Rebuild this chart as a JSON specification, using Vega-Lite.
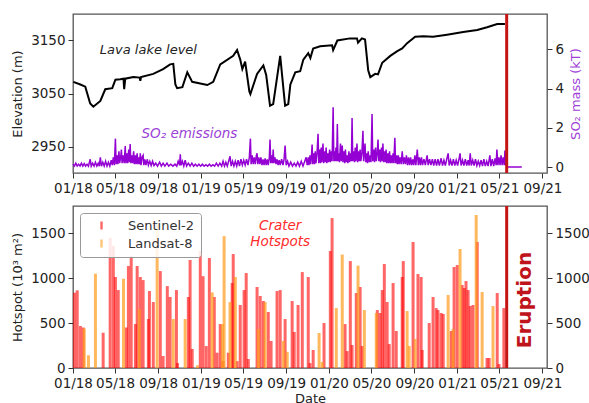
{
  "$schema": "https://vega.github.io/schema/vega-lite/v6.json",
  "padding": {"left": 10, "top": 11, "right": 0, "bottom": 0},
  "config": {
    "font": "DejaVu Sans",
    "view": {"stroke": "#555", "strokeWidth": 1.3},
    "axis": {"domain": false, "grid": false, "tickColor": "#333", "tickSize": 5, "labelFontSize": 13.5, "labelColor": "#222", "titleFontSize": 13, "titleFontWeight": "normal", "titleColor": "#222", "labelPadding": 3, "titlePadding": 6}
  },
  "resolve": {"scale": {"color": "independent"}, "legend": {"color": "independent"}},
  "datasets": {
    "lava": [
      {"date":"2018-01-02","elev":3072},{"date":"2018-01-22","elev":3067},{"date":"2018-02-05","elev":3063},{"date":"2018-02-19","elev":3031},{"date":"2018-02-28","elev":3025},{"date":"2018-03-20","elev":3036},{"date":"2018-04-03","elev":3058},{"date":"2018-04-23","elev":3060},{"date":"2018-05-02","elev":3076},{"date":"2018-05-16","elev":3077},{"date":"2018-05-25","elev":3078},{"date":"2018-05-27","elev":3058},{"date":"2018-05-30","elev":3078},{"date":"2018-06-22","elev":3081},{"date":"2018-07-10","elev":3080},{"date":"2018-07-12","elev":3074},{"date":"2018-07-14","elev":3081},{"date":"2018-08-18","elev":3087},{"date":"2018-09-15","elev":3096},{"date":"2018-10-05","elev":3105},{"date":"2018-10-14","elev":3106},{"date":"2018-10-20","elev":3067},{"date":"2018-10-25","elev":3060},{"date":"2018-11-09","elev":3062},{"date":"2018-11-23","elev":3090},{"date":"2018-12-07","elev":3072},{"date":"2018-12-30","elev":3069},{"date":"2019-01-19","elev":3066},{"date":"2019-02-05","elev":3072},{"date":"2019-02-25","elev":3105},{"date":"2019-04-03","elev":3121},{"date":"2019-04-14","elev":3132},{"date":"2019-04-23","elev":3114},{"date":"2019-04-29","elev":3096},{"date":"2019-05-07","elev":3110},{"date":"2019-05-19","elev":3054},{"date":"2019-05-22","elev":3049},{"date":"2019-06-10","elev":3087},{"date":"2019-06-28","elev":3103},{"date":"2019-07-06","elev":3085},{"date":"2019-07-17","elev":3027},{"date":"2019-07-26","elev":3030},{"date":"2019-08-15","elev":3121},{"date":"2019-08-24","elev":3060},{"date":"2019-08-29","elev":3027},{"date":"2019-09-07","elev":3030},{"date":"2019-09-13","elev":3067},{"date":"2019-09-27","elev":3090},{"date":"2019-10-11","elev":3092},{"date":"2019-10-20","elev":3114},{"date":"2019-11-03","elev":3126},{"date":"2019-11-09","elev":3117},{"date":"2019-11-17","elev":3135},{"date":"2019-12-07","elev":3139},{"date":"2020-01-10","elev":3141},{"date":"2020-01-13","elev":3132},{"date":"2020-01-25","elev":3150},{"date":"2020-03-01","elev":3154},{"date":"2020-03-21","elev":3154},{"date":"2020-03-24","elev":3146},{"date":"2020-04-04","elev":3154},{"date":"2020-04-13","elev":3152},{"date":"2020-04-22","elev":3094},{"date":"2020-04-28","elev":3081},{"date":"2020-05-12","elev":3087},{"date":"2020-05-20","elev":3086},{"date":"2020-06-01","elev":3108},{"date":"2020-06-24","elev":3121},{"date":"2020-07-14","elev":3130},{"date":"2020-07-28","elev":3135},{"date":"2020-08-11","elev":3145},{"date":"2020-09-03","elev":3157},{"date":"2020-09-26","elev":3158},{"date":"2020-10-24","elev":3157},{"date":"2020-12-03","elev":3161},{"date":"2021-01-18","elev":3166},{"date":"2021-02-27","elev":3170},{"date":"2021-03-27","elev":3175},{"date":"2021-04-25","elev":3181},{"date":"2021-05-17","elev":3181}
    ],
    "so2": [
      {"date":"2018-01-01","so2":0.15},{"date":"2018-01-05","so2":0.05},{"date":"2018-01-09","so2":0.2},{"date":"2018-01-13","so2":0.05},{"date":"2018-01-17","so2":0.15},{"date":"2018-01-21","so2":0.05},{"date":"2018-01-25","so2":0.2},{"date":"2018-01-29","so2":0.05},{"date":"2018-02-02","so2":0.18},{"date":"2018-02-06","so2":0.05},{"date":"2018-02-10","so2":0.15},{"date":"2018-02-14","so2":0.05},{"date":"2018-02-19","so2":0.4},{"date":"2018-02-22","so2":0.05},{"date":"2018-02-26","so2":0.2},{"date":"2018-03-02","so2":0.05},{"date":"2018-03-06","so2":0.25},{"date":"2018-03-10","so2":0.05},{"date":"2018-03-14","so2":0.2},{"date":"2018-03-17","so2":0.05},{"date":"2018-03-20","so2":0.5},{"date":"2018-03-23","so2":0.05},{"date":"2018-03-27","so2":0.25},{"date":"2018-03-31","so2":0.05},{"date":"2018-04-04","so2":0.3},{"date":"2018-04-08","so2":0.05},{"date":"2018-04-12","so2":0.25},{"date":"2018-04-16","so2":0.05},{"date":"2018-04-20","so2":0.35},{"date":"2018-04-23","so2":0.1},{"date":"2018-04-26","so2":0.5},{"date":"2018-04-29","so2":0.1},{"date":"2018-05-02","so2":1.45},{"date":"2018-05-04","so2":0.15},{"date":"2018-05-07","so2":0.6},{"date":"2018-05-09","so2":0.15},{"date":"2018-05-12","so2":0.8},{"date":"2018-05-14","so2":0.2},{"date":"2018-05-17","so2":0.5},{"date":"2018-05-19","so2":0.9},{"date":"2018-05-21","so2":0.2},{"date":"2018-05-24","so2":0.6},{"date":"2018-05-27","so2":0.2},{"date":"2018-05-30","so2":1.07},{"date":"2018-06-01","so2":0.2},{"date":"2018-06-04","so2":0.7},{"date":"2018-06-06","so2":0.2},{"date":"2018-06-09","so2":0.9},{"date":"2018-06-11","so2":0.25},{"date":"2018-06-13","so2":1.17},{"date":"2018-06-15","so2":0.2},{"date":"2018-06-18","so2":0.6},{"date":"2018-06-20","so2":0.2},{"date":"2018-06-23","so2":0.8},{"date":"2018-06-25","so2":0.15},{"date":"2018-06-28","so2":0.6},{"date":"2018-06-30","so2":0.15},{"date":"2018-07-03","so2":0.7},{"date":"2018-07-05","so2":0.15},{"date":"2018-07-08","so2":0.5},{"date":"2018-07-10","so2":0.15},{"date":"2018-07-12","so2":0.7},{"date":"2018-07-14","so2":0.1},{"date":"2018-07-17","so2":0.5},{"date":"2018-07-20","so2":0.6},{"date":"2018-07-22","so2":0.1},{"date":"2018-07-25","so2":0.4},{"date":"2018-07-28","so2":0.1},{"date":"2018-08-01","so2":0.4},{"date":"2018-08-04","so2":0.1},{"date":"2018-08-08","so2":0.3},{"date":"2018-08-12","so2":0.08},{"date":"2018-08-16","so2":0.3},{"date":"2018-08-20","so2":0.08},{"date":"2018-08-25","so2":0.2},{"date":"2018-08-30","so2":0.05},{"date":"2018-09-05","so2":0.25},{"date":"2018-09-10","so2":0.05},{"date":"2018-09-15","so2":0.2},{"date":"2018-09-20","so2":0.05},{"date":"2018-09-26","so2":0.2},{"date":"2018-10-01","so2":0.05},{"date":"2018-10-07","so2":0.15},{"date":"2018-10-13","so2":0.05},{"date":"2018-10-19","so2":0.15},{"date":"2018-10-24","so2":0.05},{"date":"2018-10-28","so2":0.3},{"date":"2018-11-01","so2":0.1},{"date":"2018-11-03","so2":0.65},{"date":"2018-11-05","so2":0.1},{"date":"2018-11-09","so2":0.3},{"date":"2018-11-13","so2":0.05},{"date":"2018-11-17","so2":0.35},{"date":"2018-11-21","so2":0.05},{"date":"2018-11-26","so2":0.2},{"date":"2018-12-01","so2":0.05},{"date":"2018-12-06","so2":0.2},{"date":"2018-12-11","so2":0.05},{"date":"2018-12-16","so2":0.15},{"date":"2018-12-21","so2":0.05},{"date":"2018-12-26","so2":0.15},{"date":"2018-12-31","so2":0.05},
      {"date":"2019-01-05","so2":0.15},{"date":"2019-01-10","so2":0.05},{"date":"2019-01-15","so2":0.12},{"date":"2019-01-20","so2":0.05},{"date":"2019-01-25","so2":0.15},{"date":"2019-01-30","so2":0.05},{"date":"2019-02-04","so2":0.12},{"date":"2019-02-09","so2":0.05},{"date":"2019-02-14","so2":0.2},{"date":"2019-02-19","so2":0.05},{"date":"2019-02-24","so2":0.2},{"date":"2019-03-01","so2":0.05},{"date":"2019-03-05","so2":0.3},{"date":"2019-03-09","so2":0.05},{"date":"2019-03-13","so2":0.25},{"date":"2019-03-17","so2":0.05},{"date":"2019-03-21","so2":0.3},{"date":"2019-03-25","so2":0.55},{"date":"2019-03-28","so2":0.05},{"date":"2019-04-01","so2":0.3},{"date":"2019-04-05","so2":0.05},{"date":"2019-04-09","so2":0.3},{"date":"2019-04-13","so2":0.05},{"date":"2019-04-17","so2":0.35},{"date":"2019-04-21","so2":0.05},{"date":"2019-04-25","so2":0.4},{"date":"2019-04-29","so2":0.1},{"date":"2019-05-03","so2":0.35},{"date":"2019-05-07","so2":0.1},{"date":"2019-05-11","so2":0.4},{"date":"2019-05-15","so2":0.1},{"date":"2019-05-19","so2":0.5},{"date":"2019-05-22","so2":1.45},{"date":"2019-05-24","so2":0.15},{"date":"2019-05-27","so2":0.6},{"date":"2019-05-30","so2":0.15},{"date":"2019-06-02","so2":0.5},{"date":"2019-06-05","so2":0.15},{"date":"2019-06-08","so2":0.6},{"date":"2019-06-10","so2":0.7},{"date":"2019-06-12","so2":0.15},{"date":"2019-06-15","so2":0.5},{"date":"2019-06-18","so2":0.15},{"date":"2019-06-21","so2":0.5},{"date":"2019-06-24","so2":0.1},{"date":"2019-06-27","so2":0.4},{"date":"2019-06-30","so2":0.1},{"date":"2019-07-03","so2":0.45},{"date":"2019-07-06","so2":0.1},{"date":"2019-07-09","so2":0.4},{"date":"2019-07-12","so2":0.1},{"date":"2019-07-15","so2":0.5},{"date":"2019-07-17","so2":1.4},{"date":"2019-07-19","so2":0.2},{"date":"2019-07-22","so2":0.6},{"date":"2019-07-24","so2":0.2},{"date":"2019-07-26","so2":0.9},{"date":"2019-07-28","so2":0.2},{"date":"2019-07-31","so2":0.5},{"date":"2019-08-03","so2":0.15},{"date":"2019-08-06","so2":0.4},{"date":"2019-08-09","so2":0.1},{"date":"2019-08-12","so2":0.35},{"date":"2019-08-15","so2":0.1},{"date":"2019-08-19","so2":0.4},{"date":"2019-08-23","so2":0.1},{"date":"2019-08-26","so2":0.4},{"date":"2019-08-29","so2":1.1},{"date":"2019-09-01","so2":0.1},{"date":"2019-09-05","so2":0.3},{"date":"2019-09-09","so2":0.05},{"date":"2019-09-14","so2":0.25},{"date":"2019-09-19","so2":0.05},{"date":"2019-09-24","so2":0.2},{"date":"2019-09-29","so2":0.05},{"date":"2019-10-04","so2":0.25},{"date":"2019-10-09","so2":0.05},{"date":"2019-10-14","so2":0.3},{"date":"2019-10-19","so2":0.05},{"date":"2019-10-24","so2":0.3},{"date":"2019-10-28","so2":0.5},{"date":"2019-10-31","so2":0.1},{"date":"2019-11-03","so2":0.5},{"date":"2019-11-05","so2":0.1},{"date":"2019-11-08","so2":0.6},{"date":"2019-11-10","so2":0.15},{"date":"2019-11-12","so2":0.5},{"date":"2019-11-14","so2":1.15},{"date":"2019-11-16","so2":0.15},{"date":"2019-11-19","so2":0.7},{"date":"2019-11-21","so2":0.15},{"date":"2019-11-23","so2":0.8},{"date":"2019-11-25","so2":0.2},{"date":"2019-11-28","so2":0.7},{"date":"2019-12-01","so2":1.7},{"date":"2019-12-03","so2":0.2},{"date":"2019-12-06","so2":0.9},{"date":"2019-12-08","so2":0.2},{"date":"2019-12-10","so2":1.0},{"date":"2019-12-12","so2":0.25},{"date":"2019-12-15","so2":1.2},{"date":"2019-12-17","so2":0.2},{"date":"2019-12-20","so2":0.8},{"date":"2019-12-22","so2":0.25},{"date":"2019-12-24","so2":1.0},{"date":"2019-12-26","so2":0.2},{"date":"2019-12-29","so2":0.7},{"date":"2019-12-31","so2":0.25},
      {"date":"2020-01-03","so2":0.9},{"date":"2020-01-05","so2":0.25},{"date":"2020-01-08","so2":0.8},{"date":"2020-01-10","so2":0.3},{"date":"2020-01-13","so2":3.05},{"date":"2020-01-15","so2":0.3},{"date":"2020-01-17","so2":0.8},{"date":"2020-01-19","so2":0.3},{"date":"2020-01-21","so2":1.0},{"date":"2020-01-23","so2":0.3},{"date":"2020-01-25","so2":2.2},{"date":"2020-01-27","so2":0.3},{"date":"2020-01-29","so2":0.7},{"date":"2020-01-31","so2":0.25},{"date":"2020-02-03","so2":1.2},{"date":"2020-02-05","so2":0.3},{"date":"2020-02-08","so2":1.1},{"date":"2020-02-10","so2":0.25},{"date":"2020-02-13","so2":0.8},{"date":"2020-02-15","so2":0.2},{"date":"2020-02-17","so2":0.9},{"date":"2020-02-19","so2":0.25},{"date":"2020-02-22","so2":0.6},{"date":"2020-02-24","so2":0.2},{"date":"2020-02-27","so2":0.8},{"date":"2020-02-29","so2":0.25},{"date":"2020-03-03","so2":0.7},{"date":"2020-03-05","so2":0.3},{"date":"2020-03-07","so2":2.5},{"date":"2020-03-09","so2":0.3},{"date":"2020-03-12","so2":0.8},{"date":"2020-03-14","so2":0.25},{"date":"2020-03-16","so2":1.0},{"date":"2020-03-18","so2":0.3},{"date":"2020-03-21","so2":1.2},{"date":"2020-03-23","so2":0.25},{"date":"2020-03-26","so2":0.8},{"date":"2020-03-28","so2":0.3},{"date":"2020-03-30","so2":0.9},{"date":"2020-04-01","so2":0.3},{"date":"2020-04-04","so2":0.7},{"date":"2020-04-07","so2":1.85},{"date":"2020-04-09","so2":0.3},{"date":"2020-04-11","so2":0.8},{"date":"2020-04-13","so2":1.2},{"date":"2020-04-15","so2":0.25},{"date":"2020-04-18","so2":0.7},{"date":"2020-04-20","so2":0.2},{"date":"2020-04-22","so2":0.8},{"date":"2020-04-25","so2":0.25},{"date":"2020-04-28","so2":0.6},{"date":"2020-04-30","so2":0.25},{"date":"2020-05-03","so2":2.7},{"date":"2020-05-05","so2":0.3},{"date":"2020-05-08","so2":0.9},{"date":"2020-05-10","so2":0.25},{"date":"2020-05-13","so2":1.0},{"date":"2020-05-15","so2":0.3},{"date":"2020-05-18","so2":0.8},{"date":"2020-05-20","so2":1.4},{"date":"2020-05-22","so2":0.3},{"date":"2020-05-25","so2":0.9},{"date":"2020-05-27","so2":0.25},{"date":"2020-05-30","so2":1.0},{"date":"2020-06-01","so2":0.3},{"date":"2020-06-03","so2":1.2},{"date":"2020-06-05","so2":0.25},{"date":"2020-06-08","so2":0.8},{"date":"2020-06-10","so2":0.25},{"date":"2020-06-12","so2":0.9},{"date":"2020-06-14","so2":0.2},{"date":"2020-06-17","so2":0.7},{"date":"2020-06-19","so2":0.2},{"date":"2020-06-22","so2":0.8},{"date":"2020-06-24","so2":0.2},{"date":"2020-06-27","so2":0.6},{"date":"2020-06-29","so2":0.2},{"date":"2020-07-02","so2":0.7},{"date":"2020-07-04","so2":0.2},{"date":"2020-07-07","so2":1.5},{"date":"2020-07-09","so2":0.2},{"date":"2020-07-12","so2":0.6},{"date":"2020-07-14","so2":0.15},{"date":"2020-07-17","so2":0.6},{"date":"2020-07-19","so2":0.15},{"date":"2020-07-22","so2":0.5},{"date":"2020-07-25","so2":0.15},{"date":"2020-07-28","so2":0.8},{"date":"2020-07-31","so2":0.15},{"date":"2020-08-03","so2":0.5},{"date":"2020-08-06","so2":0.15},{"date":"2020-08-09","so2":0.6},{"date":"2020-08-12","so2":0.1},{"date":"2020-08-15","so2":0.5},{"date":"2020-08-18","so2":0.1},{"date":"2020-08-21","so2":0.5},{"date":"2020-08-24","so2":0.1},{"date":"2020-08-27","so2":0.4},{"date":"2020-08-30","so2":0.1},{"date":"2020-09-02","so2":0.6},{"date":"2020-09-05","so2":0.1},{"date":"2020-09-09","so2":0.9},{"date":"2020-09-12","so2":0.1},{"date":"2020-09-15","so2":0.5},{"date":"2020-09-18","so2":0.1},{"date":"2020-09-21","so2":0.5},{"date":"2020-09-24","so2":0.1},{"date":"2020-09-28","so2":0.4},{"date":"2020-10-02","so2":0.1},{"date":"2020-10-07","so2":0.6},{"date":"2020-10-10","so2":0.1},{"date":"2020-10-14","so2":0.4},{"date":"2020-10-18","so2":0.1},{"date":"2020-10-22","so2":0.4},{"date":"2020-10-26","so2":0.08},{"date":"2020-10-30","so2":0.4},{"date":"2020-11-03","so2":0.08},{"date":"2020-11-07","so2":0.4},{"date":"2020-11-11","so2":0.08},{"date":"2020-11-16","so2":0.45},{"date":"2020-11-20","so2":0.08},{"date":"2020-11-24","so2":0.35},{"date":"2020-11-28","so2":0.08},{"date":"2020-12-02","so2":0.4},{"date":"2020-12-06","so2":0.7},{"date":"2020-12-09","so2":0.08},{"date":"2020-12-13","so2":0.35},{"date":"2020-12-17","so2":0.08},{"date":"2020-12-21","so2":0.4},{"date":"2020-12-25","so2":0.08},{"date":"2020-12-29","so2":0.35},
      {"date":"2021-01-02","so2":0.08},{"date":"2021-01-06","so2":0.4},{"date":"2021-01-09","so2":0.7},{"date":"2021-01-12","so2":0.08},{"date":"2021-01-16","so2":0.35},{"date":"2021-01-20","so2":0.08},{"date":"2021-01-24","so2":0.4},{"date":"2021-01-28","so2":0.08},{"date":"2021-02-01","so2":0.35},{"date":"2021-02-04","so2":0.08},{"date":"2021-02-07","so2":0.7},{"date":"2021-02-10","so2":0.08},{"date":"2021-02-14","so2":0.35},{"date":"2021-02-18","so2":0.08},{"date":"2021-02-22","so2":0.4},{"date":"2021-02-26","so2":0.08},{"date":"2021-03-02","so2":0.3},{"date":"2021-03-06","so2":0.08},{"date":"2021-03-10","so2":0.35},{"date":"2021-03-14","so2":0.05},{"date":"2021-03-18","so2":0.4},{"date":"2021-03-22","so2":0.05},{"date":"2021-03-26","so2":0.3},{"date":"2021-03-30","so2":0.05},{"date":"2021-04-04","so2":0.6},{"date":"2021-04-07","so2":0.05},{"date":"2021-04-11","so2":0.4},{"date":"2021-04-15","so2":0.05},{"date":"2021-04-19","so2":0.45},{"date":"2021-04-22","so2":0.1},{"date":"2021-04-24","so2":0.9},{"date":"2021-04-27","so2":0.1},{"date":"2021-04-30","so2":0.5},{"date":"2021-05-03","so2":0.1},{"date":"2021-05-06","so2":0.6},{"date":"2021-05-09","so2":0.1},{"date":"2021-05-12","so2":0.5},{"date":"2021-05-15","so2":0.1},{"date":"2021-05-17","so2":0.85},{"date":"2021-05-20","so2":0.1},{"date":"2021-05-23","so2":0.0},{"date":"2021-07-04","so2":0.0}
    ],
    "s2": [
      {"date":"2018-01-05","area":837},{"date":"2018-01-13","area":863},{"date":"2018-01-22","area":467},{"date":"2018-01-30","area":450},{"date":"2018-03-28","area":392},{"date":"2018-04-17","area":1447},{"date":"2018-04-26","area":1355},{"date":"2018-05-02","area":1011},{"date":"2018-05-10","area":866},{"date":"2018-06-02","area":450},{"date":"2018-06-08","area":1133},{"date":"2018-06-16","area":1244},{"date":"2018-06-28","area":488},{"date":"2018-07-03","area":1133},{"date":"2018-07-12","area":1011},{"date":"2018-07-20","area":977},{"date":"2018-08-04","area":544},{"date":"2018-08-07","area":855},{"date":"2018-08-18","area":733},{"date":"2018-09-07","area":1077},{"date":"2018-09-15","area":133},{"date":"2018-09-27","area":910},{"date":"2018-10-05","area":789},{"date":"2018-10-23","area":866},{"date":"2018-10-26","area":55},{"date":"2018-11-26","area":789},{"date":"2018-12-01","area":1200},{"date":"2018-12-07","area":211},{"date":"2018-12-30","area":1300},
      {"date":"2019-01-07","area":1020},{"date":"2019-01-16","area":244},{"date":"2019-01-25","area":1222},{"date":"2019-02-08","area":789},{"date":"2019-02-16","area":170},{"date":"2019-02-25","area":488},{"date":"2019-03-05","area":77},{"date":"2019-03-20","area":170},{"date":"2019-03-31","area":944},{"date":"2019-04-03","area":1266},{"date":"2019-04-14","area":77},{"date":"2019-04-23","area":700},{"date":"2019-05-04","area":866},{"date":"2019-05-10","area":1055},{"date":"2019-05-16","area":100},{"date":"2019-06-10","area":900},{"date":"2019-06-19","area":800},{"date":"2019-06-28","area":744},{"date":"2019-07-12","area":622},{"date":"2019-07-20","area":300},{"date":"2019-08-06","area":855},{"date":"2019-08-15","area":866},{"date":"2019-08-29","area":544},{"date":"2019-09-18","area":744},{"date":"2019-09-24","area":400},{"date":"2019-10-05","area":700},{"date":"2019-10-17","area":1066},{"date":"2019-11-03","area":1011},{"date":"2019-11-08","area":55},{"date":"2019-11-17","area":200},{"date":"2019-12-18","area":500},
      {"date":"2020-01-05","area":1300},{"date":"2020-01-10","area":1666},{"date":"2020-02-16","area":488},{"date":"2020-02-22","area":188},{"date":"2020-03-02","area":1188},{"date":"2020-03-07","area":255},{"date":"2020-03-19","area":833},{"date":"2020-03-30","area":900},{"date":"2020-04-05","area":244},{"date":"2020-05-18","area":644},{"date":"2020-05-26","area":611},{"date":"2020-06-01","area":866},{"date":"2020-06-07","area":1155},{"date":"2020-06-15","area":733},{"date":"2020-06-21","area":266},{"date":"2020-07-02","area":944},{"date":"2020-07-11","area":411},{"date":"2020-07-28","area":1011},{"date":"2020-07-31","area":1188},{"date":"2020-08-28","area":1400},{"date":"2020-09-11","area":1044},{"date":"2020-09-20","area":1011},{"date":"2020-09-23","area":200},{"date":"2020-10-13","area":500},{"date":"2020-10-24","area":789},{"date":"2020-11-02","area":666},{"date":"2020-11-07","area":644},{"date":"2020-11-16","area":611},{"date":"2020-11-22","area":600},{"date":"2020-12-15","area":411},{"date":"2020-12-23","area":1122},
      {"date":"2021-01-01","area":1144},{"date":"2021-01-15","area":922},{"date":"2021-01-21","area":888},{"date":"2021-01-26","area":966},{"date":"2021-02-01","area":866},{"date":"2021-02-07","area":689},{"date":"2021-02-15","area":700},{"date":"2021-02-27","area":1400},{"date":"2021-03-27","area":111},{"date":"2021-04-02","area":111},{"date":"2021-04-25","area":833},{"date":"2021-04-30","area":44},{"date":"2021-05-14","area":666}
    ],
    "l8": [
      {"date":"2018-02-02","area":440},{"date":"2018-02-14","area":141},{"date":"2018-03-06","area":1048},{"date":"2018-05-25","area":992},{"date":"2018-07-09","area":655},{"date":"2018-08-29","area":1600},{"date":"2018-10-14","area":544},{"date":"2018-11-17","area":544},{"date":"2018-12-22","area":30},
      {"date":"2019-02-02","area":840},{"date":"2019-03-03","area":488},{"date":"2019-03-08","area":1465},{"date":"2019-03-25","area":733},{"date":"2019-04-09","area":1011},{"date":"2019-06-14","area":433},{"date":"2019-07-03","area":733},{"date":"2019-08-24","area":300},{"date":"2019-09-04","area":180},{"date":"2019-12-04","area":389},{"date":"2019-12-13","area":66},
      {"date":"2020-01-22","area":666},{"date":"2020-02-08","area":1260},{"date":"2020-03-24","area":1137},{"date":"2020-04-11","area":644},{"date":"2020-05-15","area":611},{"date":"2020-08-11","area":633},{"date":"2020-08-17","area":244},{"date":"2020-09-03","area":322},{"date":"2020-12-06","area":811},{"date":"2020-12-20","area":433},
      {"date":"2021-01-09","area":1322},{"date":"2021-02-24","area":1700},{"date":"2021-03-13","area":844},{"date":"2021-04-13","area":689}
    ],
    "erupt": [{"date":"2021-05-22"}]
  },
  "vconcat": [
    {
      "width": 474,
      "height": 159,
      "layer": [
        {
          "layer": [
            {
              "data": {"name": "lava"},
              "mark": {"type": "line", "color": "black", "strokeWidth": 2},
              "encoding": {
                "x": {"field": "date", "type": "temporal", "scale": {"type": "utc", "domain": [{"year":2018,"month":1,"date":1,"utc":true},{"year":2021,"month":9,"date":14,"utc":true}]}, "axis": {"title": null, "format": "%m/%y", "labelFlush": false, "values": [{"year":2018,"month":1,"date":1,"utc":true},{"year":2018,"month":5,"date":1,"utc":true},{"year":2018,"month":9,"date":1,"utc":true},{"year":2019,"month":1,"date":1,"utc":true},{"year":2019,"month":5,"date":1,"utc":true},{"year":2019,"month":9,"date":1,"utc":true},{"year":2020,"month":1,"date":1,"utc":true},{"year":2020,"month":5,"date":1,"utc":true},{"year":2020,"month":9,"date":1,"utc":true},{"year":2021,"month":1,"date":1,"utc":true},{"year":2021,"month":5,"date":1,"utc":true},{"year":2021,"month":9,"date":1,"utc":true}]}},
                "y": {"field": "elev", "type": "quantitative", "scale": {"domain": [2907, 3193]}, "axis": {"title": "Elevation (m)", "format": "d", "values": [2950, 3000, 3050, 3100, 3150]}}
              }
            },
            {
              "data": {"values": [{}]},
              "mark": {"type": "text", "text": "Lava lake level", "fontStyle": "italic", "fontSize": 13, "color": "#222"},
              "encoding": {
                "x": {"datum": {"year":2018,"month":8,"date":4,"utc":true}, "type": "temporal"},
                "y": {"datum": 3133}
              }
            },
            {
              "data": {"values": [{}]},
              "mark": {"type": "text", "text": "SO₂ emissions", "fontStyle": "italic", "fontSize": 13.5, "color": "#9a3fd6"},
              "encoding": {
                "x": {"datum": {"year":2018,"month":11,"date":29,"utc":true}, "type": "temporal"},
                "y": {"datum": 2973}
              }
            }
          ]
        },
        {
          "data": {"name": "so2"},
          "mark": {"type": "line", "color": "#9400d3", "strokeWidth": 1.5},
          "encoding": {
            "x": {"field": "date", "type": "temporal"},
            "y": {"field": "so2", "type": "quantitative", "scale": {"domain": [-0.3, 7.8]}, "axis": {"orient": "right", "title": "SO₂ mass (kT)", "titleColor": "#a040d8", "titleAngle": 270, "titleBaseline": "top", "values": [0, 2, 4, 6]}}
          }
        },
        {
          "data": {"name": "erupt"},
          "mark": {"type": "rule", "color": "#c41414", "strokeWidth": 3, "y2Offset": 33},
          "encoding": {"x": {"field": "date", "type": "temporal"}}
        }
      ],
      "resolve": {"scale": {"y": "independent"}}
    },
    {
      "width": 474,
      "height": 162,
      "layer": [
        {
          "layer": [
            {
              "data": {"name": "s2"},
              "mark": {"type": "bar", "size": 3, "opacity": 0.6},
              "encoding": {
                "x": {"field": "date", "type": "temporal", "scale": {"type": "utc", "padding": 0, "domain": [{"year":2018,"month":1,"date":1,"utc":true},{"year":2021,"month":9,"date":14,"utc":true}]}, "axis": {"title": "Date", "titlePadding": 3, "format": "%m/%y", "labelFlush": false, "values": [{"year":2018,"month":1,"date":1,"utc":true},{"year":2018,"month":5,"date":1,"utc":true},{"year":2018,"month":9,"date":1,"utc":true},{"year":2019,"month":1,"date":1,"utc":true},{"year":2019,"month":5,"date":1,"utc":true},{"year":2019,"month":9,"date":1,"utc":true},{"year":2020,"month":1,"date":1,"utc":true},{"year":2020,"month":5,"date":1,"utc":true},{"year":2020,"month":9,"date":1,"utc":true},{"year":2021,"month":1,"date":1,"utc":true},{"year":2021,"month":5,"date":1,"utc":true},{"year":2021,"month":9,"date":1,"utc":true}]}},
                "y": {"field": "area", "type": "quantitative", "stack": null, "scale": {"domain": [0, 1800]}, "axis": {"title": "Hotspot (10³ m²)", "format": "d", "values": [0, 500, 1000, 1500]}},
                "color": {"datum": "Sentinel-2", "scale": {"domain": ["Sentinel-2", "Landsat-8"], "range": ["#ff0000", "#ff9a1a"]}, "legend": {"title": null, "orient": "top-left", "offset": 7, "fillColor": "rgba(255,255,255,0.85)", "strokeColor": "#999", "padding": 6, "cornerRadius": 3, "symbolType": "M-0.3,-1H0.3V1H-0.3Z", "symbolSize": 64, "symbolStrokeWidth": 0, "labelFontSize": 13, "labelColor": "#333", "symbolOffset": 9, "labelOffset": 20, "rowPadding": 4, "labelExpr": "datum.label + '\u00a0\u00a0'"}}
              }
            },
            {
              "data": {"name": "l8"},
              "mark": {"type": "bar", "size": 3, "opacity": 0.7},
              "encoding": {
                "x": {"field": "date", "type": "temporal"},
                "y": {"field": "area", "type": "quantitative", "stack": null},
                "color": {"datum": "Landsat-8"}
              }
            },
            {
              "data": {"values": [{}]},
              "mark": {"type": "text", "text": "Crater\nHotspots", "lineBreak": "\n", "lineHeight": 16, "fontStyle": "italic", "fontSize": 13.5, "color": "#ff2a2a"},
              "encoding": {
                "x": {"datum": {"year":2019,"month":8,"date":15,"utc":true}, "type": "temporal"},
                "y": {"datum": 1577}
              }
            },
            {
              "data": {"values": [{}]},
              "mark": {"type": "text", "text": "Eruption", "angle": 270, "fontSize": 20, "fontWeight": "bold", "color": "#c0141c", "align": "center", "baseline": "middle"},
              "encoding": {
                "x": {"datum": {"year":2021,"month":7,"date":13,"utc":true}, "type": "temporal"},
                "y": {"datum": 755}
              }
            }
          ]
        },
        {
          "data": {"name": "s2"},
          "mark": {"type": "point", "opacity": 0},
          "encoding": {
            "x": {"field": "date", "type": "temporal"},
            "y": {"field": "area", "type": "quantitative", "scale": {"domain": [0, 1800]}, "axis": {"orient": "right", "title": null, "format": "d", "values": [0, 500, 1000, 1500]}}
          }
        },
        {
          "data": {"name": "erupt"},
          "mark": {"type": "rule", "color": "#c41414", "strokeWidth": 3},
          "encoding": {"x": {"field": "date", "type": "temporal"}}
        }
      ],
      "resolve": {"scale": {"y": "independent"}}
    }
  ],
  "bounds": "flush",
  "spacing": 33
}
